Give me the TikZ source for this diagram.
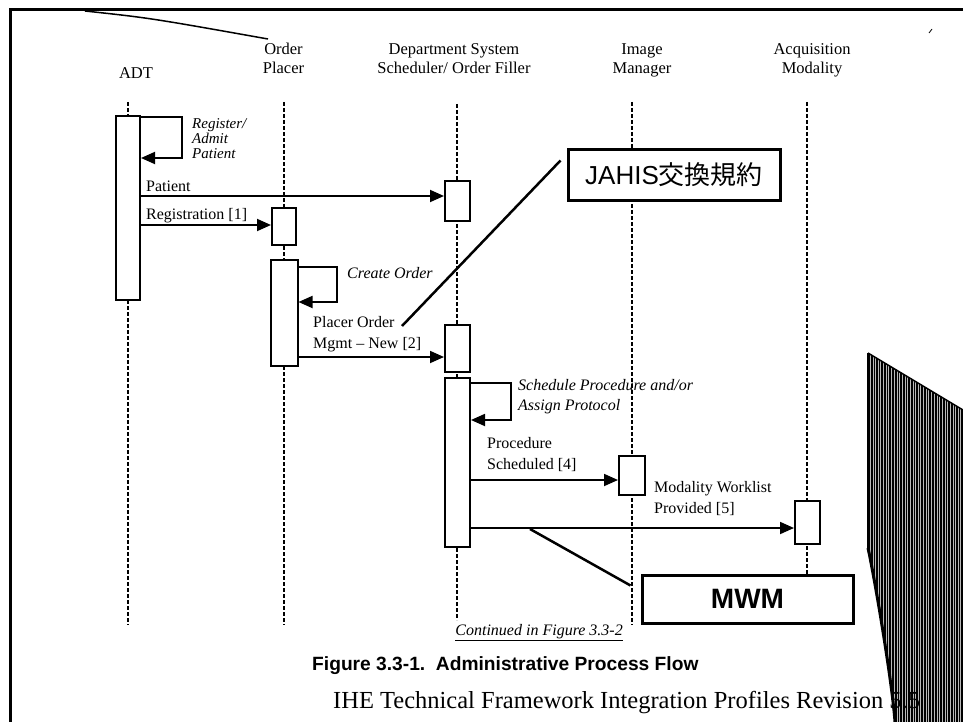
\documentclass[tikz,border=0pt]{standalone}
\usepackage{fontspec}
\setmainfont{Liberation Serif}
\newfontfamily\arialfont{Liberation Sans}
\newfontfamily\cjkfont{Noto Sans CJK JP}
\usetikzlibrary{arrows.meta,calc}
\newcommand\myfs[2]{\fontsize{#1}{#2}\selectfont}
\begin{document}
\begin{tikzpicture}[x=1pt,y=-1pt,
  life/.style={line width=1.6pt, dash pattern=on 4pt off 2pt},
  act/.style={draw, line width=2pt, fill=white, inner sep=0pt},
  notebox/.style={draw, line width=3pt, fill=white, inner sep=0pt},
  msg/.style={line width=1.8pt, -{Triangle[length=14pt,width=12pt]}},
  pointer/.style={line width=2.5pt},
  lbl/.style={inner sep=0pt, align=left, font=\myfs{16}{21}},
  ilbl/.style={inner sep=0pt, align=left, font=\myfs{16}{20}\itshape},
  hdr/.style={inner sep=0pt, align=center, font=\myfs{16.5}{19}}]
\fill[white] (0,0) rectangle (963,722);
\useasboundingbox (0,0) rectangle (963,722);

% page curl (hatched)
\begin{scope}
\clip (868,353) -- (963,410) -- (963,722) -- (895,722) .. controls (892,680) and (874,575) .. (868,548) -- cycle;
\fill[gray!55] (860,340) rectangle (963,722);
\foreach \xx [evaluate=\xx as \lw using {0.25+0.18*mod(\xx*7,5)}] in {868,869.6,...,963}
  {\draw[line width=\lw pt] (\xx,345) -- (\xx,722);}
\end{scope}
\draw[line width=1.5pt] (868,353) -- (963,410);
\draw[line width=1.5pt] (868,353) -- (868,548);
\draw[line width=3pt] (868,548) .. controls (874,575) and (892,680) .. (895,722);

% frame
\draw[line width=3pt] (10,722) -- (10,10) -- (963,10);
\draw[line width=1.5pt] (85,11) .. controls (150,18) .. (268,39);
\draw[line width=0.8pt] (929,33) -- (932,29);

% headers
\node[hdr, anchor=north] (hADT) at (136,67) {ADT};
\node[hdr, anchor=north] (hOP) at (283.5,43) {Order\\Placer};
\node[hdr, anchor=north] (hDSS) at (454,43) {Department System\\Scheduler/ Order Filler};
\node[hdr, anchor=north] (hIM) at (642,43) {Image\\Manager};
\node[hdr, anchor=north] (hAM) at (812,43) {Acquisition\\Modality};

% lifelines
\coordinate (adtT) at (128,102); \coordinate (adtB) at (128,625);
\coordinate (opT) at (284,102);  \coordinate (opB) at (284,625);
\coordinate (dssT) at (457,104); \coordinate (dssB) at (457,620);
\coordinate (imT) at (632,102);  \coordinate (imB) at (632,625);
\coordinate (amT) at (807,102);  \coordinate (amB) at (807,575);
\draw[life] (adtT) -- (adtB);
\draw[life] (opT) -- (opB);
\draw[life] (dssT) -- (dssB);
\draw[life] (imT) -- (imB);
\draw[life] (amT) -- (amB);

% activation boxes
\node[act, minimum width=24pt, minimum height=184pt] (adtA) at (128,208) {};
\node[act, minimum width=24pt, minimum height=37pt] (op1) at (284,226.5) {};
\node[act, minimum width=27pt, minimum height=106pt] (op2) at (284,313) {};
\node[act, minimum width=25pt, minimum height=40pt] (dss1) at (457.5,201) {};
\node[act, minimum width=25pt, minimum height=47pt] (dss2) at (457.5,348.5) {};
\node[act, minimum width=25pt, minimum height=169pt] (dss3) at (457.5,462.5) {};
\node[act, minimum width=26pt, minimum height=39pt] (im1) at (632,475.5) {};
\node[act, minimum width=25pt, minimum height=43pt] (am1) at (807.5,522.5) {};

% helper levels
\coordinate (y1) at (0,196);
\coordinate (y2) at (0,225);
\coordinate (y3) at (0,357);
\coordinate (y4) at (0,480);
\coordinate (y5) at (0,528);
\coordinate (s1a) at (182,117); \coordinate (s1b) at (182,158);
\coordinate (s2a) at (337,267); \coordinate (s2b) at (337,302);
\coordinate (s3a) at (511,383); \coordinate (s3b) at (511,420);

% self messages
\draw[msg] (adtA.east |- s1a) -- (s1a) -- (s1b) -- (adtA.east |- s1b);
\draw[msg] (op2.east |- s2a) -- (s2a) -- (s2b) -- (op2.east |- s2b);
\draw[msg] (dss3.east |- s3a) -- (s3a) -- (s3b) -- (dss3.east |- s3b);

% messages
\draw[msg] (adtA.east |- y1) -- (dss1.west |- y1);
\draw[msg] (adtA.east |- y2) -- (op1.west |- y2);
\draw[msg] (op2.east |- y3) -- (dss2.west |- y3);
\draw[msg] (dss3.east |- y4) -- (im1.west |- y4);
\draw[msg] (dss3.east |- y5) -- (am1.west |- y5);

% labels
\node[ilbl, anchor=north west, font=\myfs{15}{15}\itshape] (lReg) at (192,118) {Register/\\Admit\\Patient};
\node[ilbl, anchor=north west] (lCreate) at (347,267) {Create Order};
\node[lbl, anchor=north west, font=\myfs{16}{28}] (lPat) at (146,181) {Patient\\Registration [1]};
\node[lbl, anchor=north west] (lPlacer) at (313,316) {Placer Order\\Mgmt -- New [2]};
\node[ilbl, anchor=north west] (lSched) at (518,379) {Schedule Procedure and/or\\Assign Protocol};
\node[lbl, anchor=north west] (lProc) at (487,437) {Procedure\\Scheduled [4]};
\node[lbl, anchor=north west] (lMWL) at (654,481) {Modality Worklist\\Provided [5]};

% annotation boxes
\node[notebox, minimum width=212pt, minimum height=50pt] (jahis) at (674,175)
  {\myfs{26}{30}\arialfont JAHIS\cjkfont 交換規約};
\node[notebox, minimum width=211pt, minimum height=48pt] (mwm) at (747.5,599)
  {\myfs{28}{32}\arialfont\bfseries MWM};
\coordinate (jend) at (402,326);
\coordinate (mend) at (530,529);
\draw[pointer] (jend) -- ($(jahis.north west)+(-6,12)$);
\draw[pointer] (mend) -- ($(mwm.north west)+(-10,12)$);

% bottom texts
\node[inner sep=0pt, anchor=base east, font=\myfs{16}{20}\itshape] (cont) at (623,635) {\underline{Continued in Figure 3.3-2}};
\node[inner sep=0pt, anchor=base west, font=\myfs{19.2}{22}\arialfont\bfseries] (cap) at (312,670) {Figure 3.3-1.\ \ Administrative Process Flow};
\node[inner sep=0pt, anchor=base west, font=\myfs{24.5}{28}] (foot) at (333,708) {IHE Technical Framework Integration Profiles Revision 5.5};
\end{tikzpicture}
\end{document}
